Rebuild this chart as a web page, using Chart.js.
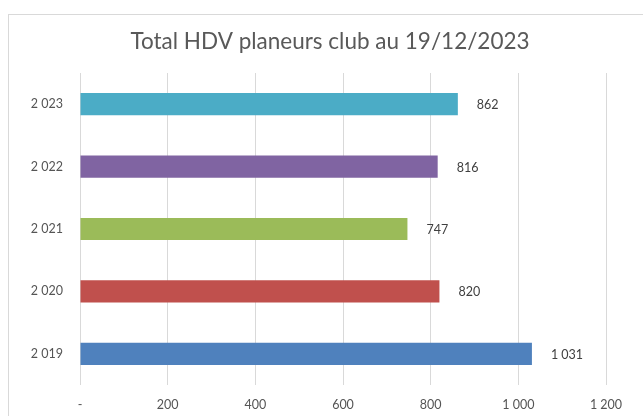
<!DOCTYPE html>
<html>
<head>
<meta charset="utf-8">
<script src="https://cdn.jsdelivr.net/npm/chart.js@4"></script>
<style>
html,body{margin:0;padding:0;background:#fff;}
#wrap{position:absolute;left:0;top:0;width:643px;height:416px;}
</style>
</head>
<body>
<div id="wrap"><canvas id="c" width="643" height="416"></canvas></div>
<script>
const categories = ['2 023', '2 022', '2 021', '2 020', '2 019'];
const values = [862, 816, 747, 820, 1031];
const barColors = ['#4BACC6', '#8064A2', '#9BBB59', '#C0504D', '#4F81BD'];
const tickLabels = ['-', '200', '400', '600', '800', '1 000', '1 200'];
const titleText = 'Total HDV planeurs club au 19/12/2023';

function fmt(v){ return String(v).replace(/\B(?=(\d{3})+(?!\d))/g, ' '); }

const FONT = 'Lato, "Open Sans", sans-serif';

const frame = {
  id: 'frame',
  beforeDraw(chart){
    const ctx = chart.ctx;
    ctx.save();
    ctx.fillStyle = '#fff';
    ctx.fillRect(0,0,chart.width,chart.height);
    ctx.strokeStyle = '#D9D9D9';
    ctx.lineWidth = 1;
    ctx.strokeRect(8.5, 14.5, 700, 500);
    ctx.restore();
  }
};

const titleDraw = {
  id: 'titleDraw',
  afterDraw(chart){
    const ctx = chart.ctx;
    ctx.save();
    ctx.font = '22.5px ' + FONT;
    ctx.fillStyle = '#595959';
    ctx.textAlign = 'center';
    ctx.textBaseline = 'middle';
    ctx.fillText(titleText, 330, 42);
    ctx.restore();
  }
};

const valueLabels = {
  id: 'valueLabels',
  afterDatasetsDraw(chart){
    const ctx = chart.ctx;
    const meta = chart.getDatasetMeta(0);
    ctx.save();
    ctx.font = '12.5px ' + FONT;
    ctx.fillStyle = '#404040';
    ctx.textBaseline = 'middle';
    ctx.textAlign = 'left';
    meta.data.forEach((bar, i) => {
      ctx.fillText(fmt(values[i]), bar.x + 19, bar.y + 1);
    });
    ctx.restore();
  }
};

new Chart(document.getElementById('c'), {
  type: 'bar',
  data: {
    labels: categories,
    datasets: [{
      data: values,
      backgroundColor: barColors,
      borderWidth: 0,
      barPercentage: 0.355,
      categoryPercentage: 1
    }]
  },
  options: {
    indexAxis: 'y',
    responsive: false,
    animation: false,
    layout: { padding: { left: 0, right: 37, top: 73, bottom: 0 } },
    plugins: {
      legend: { display: false },
      tooltip: { enabled: false },
      title: { display: false }
    },
    scales: {
      x: {
        min: 0, max: 1200,
        ticks: {
          stepSize: 200,
          color: '#555555',
          font: { family: FONT, size: 12.5 },
          padding: 12,
          callback: (v, i) => tickLabels[i]
        },
        grid: { color: '#D9D9D9', drawTicks: false },
        border: { display: false },
        afterFit(s){ s.height = 31; }
      },
      y: {
        ticks: {
          color: '#555555',
          font: { family: FONT, size: 12.5 },
          padding: 17
        },
        grid: { display: false, drawTicks: false },
        border: { display: false },
        afterFit(s){ s.width = 80; }
      }
    }
  },
  plugins: [frame, valueLabels, titleDraw]
});
</script>
</body>
</html>
